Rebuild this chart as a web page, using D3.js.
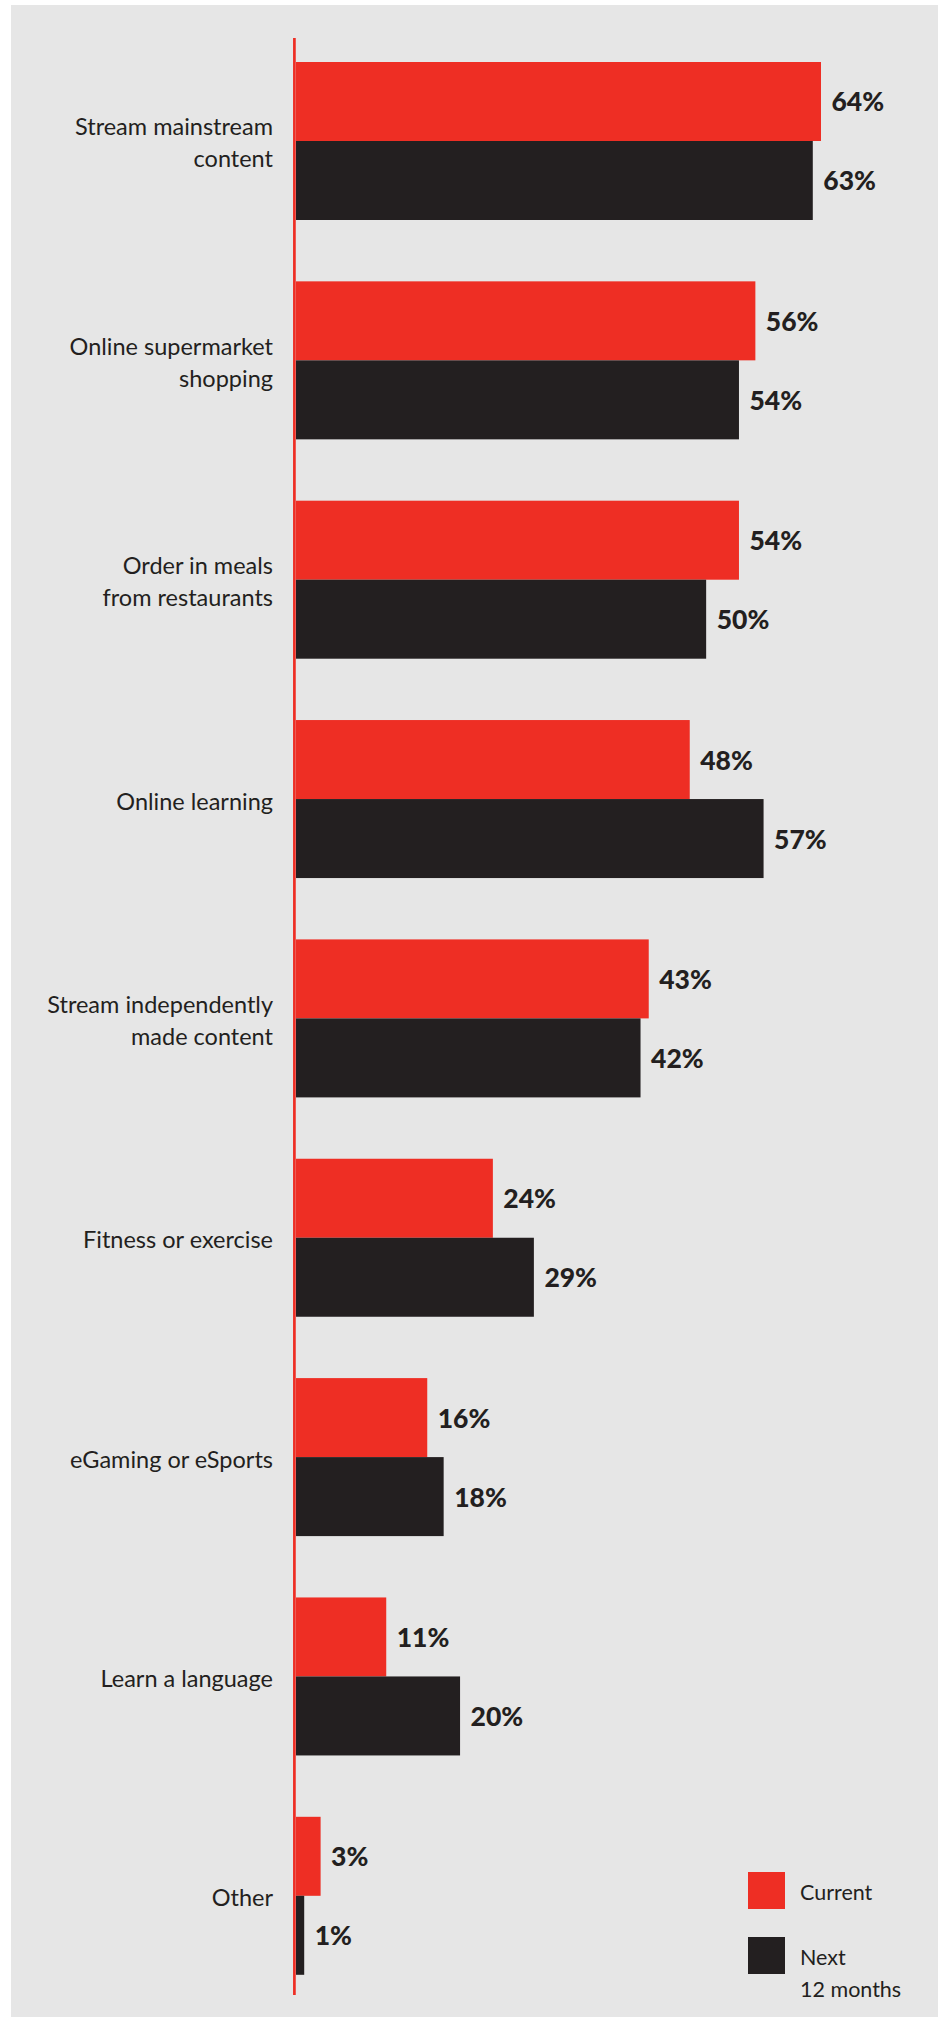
<!DOCTYPE html>
<html>
<head>
<meta charset="utf-8">
<script src="https://cdn.jsdelivr.net/npm/d3@7/dist/d3.min.js"></script>
<style>
  html, body { margin: 0; padding: 0; background: #ffffff; }
  svg { display: block; }
</style>
</head>
<body>
<script>
// Survey categories (label lines) and the two series, in percent
const categories = [
  ["Stream mainstream", "content"],
  ["Online supermarket", "shopping"],
  ["Order in meals", "from restaurants"],
  ["Online learning"],
  ["Stream independently", "made content"],
  ["Fitness or exercise"],
  ["eGaming or eSports"],
  ["Learn a language"],
  ["Other"]
];
const currentValues = [64, 56, 54, 48, 43, 24, 16, 11, 3];
const nextValues    = [63, 54, 50, 57, 42, 29, 18, 20, 1];
const seriesNames = ["Current", "Next 12 months"];
const legendLabels = [["Current"], ["Next", "12 months"]];

const W = 938, H = 2019;
const RED = "#EE2E24", DARK = "#231F20", BG = "#E6E6E6";

const svg = d3.select("body").append("svg")
  .attr("width", W).attr("height", H);

svg.append("rect")
  .attr("x", 11).attr("y", 5)
  .attr("width", W - 11).attr("height", 2012)
  .attr("fill", BG);

const keys = categories.map(d => d.join(" "));

const x = d3.scaleLinear().domain([0, 100]).range([296, 1116.3]);

const y = d3.scaleBand()
  .domain(keys)
  .range([62, 1974.8])
  .paddingInner(0.2797)
  .paddingOuter(0);

const ySub = d3.scaleBand()
  .domain(seriesNames)
  .range([0, y.bandwidth()])
  .padding(0);

const color = d3.scaleOrdinal().domain(seriesNames).range([RED, DARK]);

const rows = keys.map((k, i) => ({
  key: k,
  lines: categories[i],
  values: [
    { series: seriesNames[0], value: currentValues[i] },
    { series: seriesNames[1], value: nextValues[i] }
  ]
}));

const groups = svg.append("g").selectAll("g.group")
  .data(rows)
  .join("g")
  .attr("class", "group")
  .attr("transform", d => `translate(0,${y(d.key)})`);

groups.selectAll("rect.bar")
  .data(d => d.values)
  .join("rect")
  .attr("class", "bar")
  .attr("x", x(0))
  .attr("y", d => ySub(d.series))
  .attr("width", d => x(d.value) - x(0))
  .attr("height", ySub.bandwidth())
  .attr("fill", d => color(d.series));

groups.selectAll("text.value")
  .data(d => d.values)
  .join("text")
  .attr("class", "value")
  .attr("x", d => x(d.value) + 10.5)
  .attr("y", d => ySub(d.series) + ySub.bandwidth() / 2 + 10)
  .attr("font-family", "Lato, 'Open Sans', sans-serif")
  .attr("font-weight", 900)
  .attr("font-size", 26.5)
  .attr("fill", DARK)
  .text(d => d.value + "%");

// Category labels, right-aligned against the axis
const lineGap = 32;
groups.append("text")
  .attr("class", "cat")
  .attr("text-anchor", "end")
  .attr("font-family", "Lato, 'Open Sans', sans-serif")
  .attr("font-weight", 400)
  .attr("font-size", 23.5)
  .attr("fill", DARK)
  .selectAll("tspan")
  .data(d => d.lines.map((t, i) => ({ t, i, n: d.lines.length })))
  .join("tspan")
  .attr("x", 273)
  .attr("y", d => y.bandwidth() / 2 + 10.5 + (d.i - (d.n - 1) / 2) * lineGap)
  .text(d => d.t);

// Axis line
svg.append("line")
  .attr("x1", 294.4).attr("x2", 294.4)
  .attr("y1", 38).attr("y2", 1995)
  .attr("stroke", RED)
  .attr("stroke-width", 2.7);

// Legend
const legend = svg.append("g").attr("transform", "translate(748,1872)");
const lg = legend.selectAll("g")
  .data(seriesNames.map((s, i) => ({ s, lines: legendLabels[i], i })))
  .join("g")
  .attr("transform", d => `translate(0,${d.i * 65})`);
lg.append("rect")
  .attr("width", 37).attr("height", 37)
  .attr("fill", d => color(d.s));
lg.append("text")
  .attr("font-family", "Lato, 'Open Sans', sans-serif")
  .attr("font-weight", 400)
  .attr("font-size", 21.5)
  .attr("fill", DARK)
  .selectAll("tspan")
  .data(d => d.lines.map((t, i) => ({ t, i })))
  .join("tspan")
  .attr("x", 52)
  .attr("y", d => 28 + d.i * 32)
  .text(d => d.t);
</script>
</body>
</html>
